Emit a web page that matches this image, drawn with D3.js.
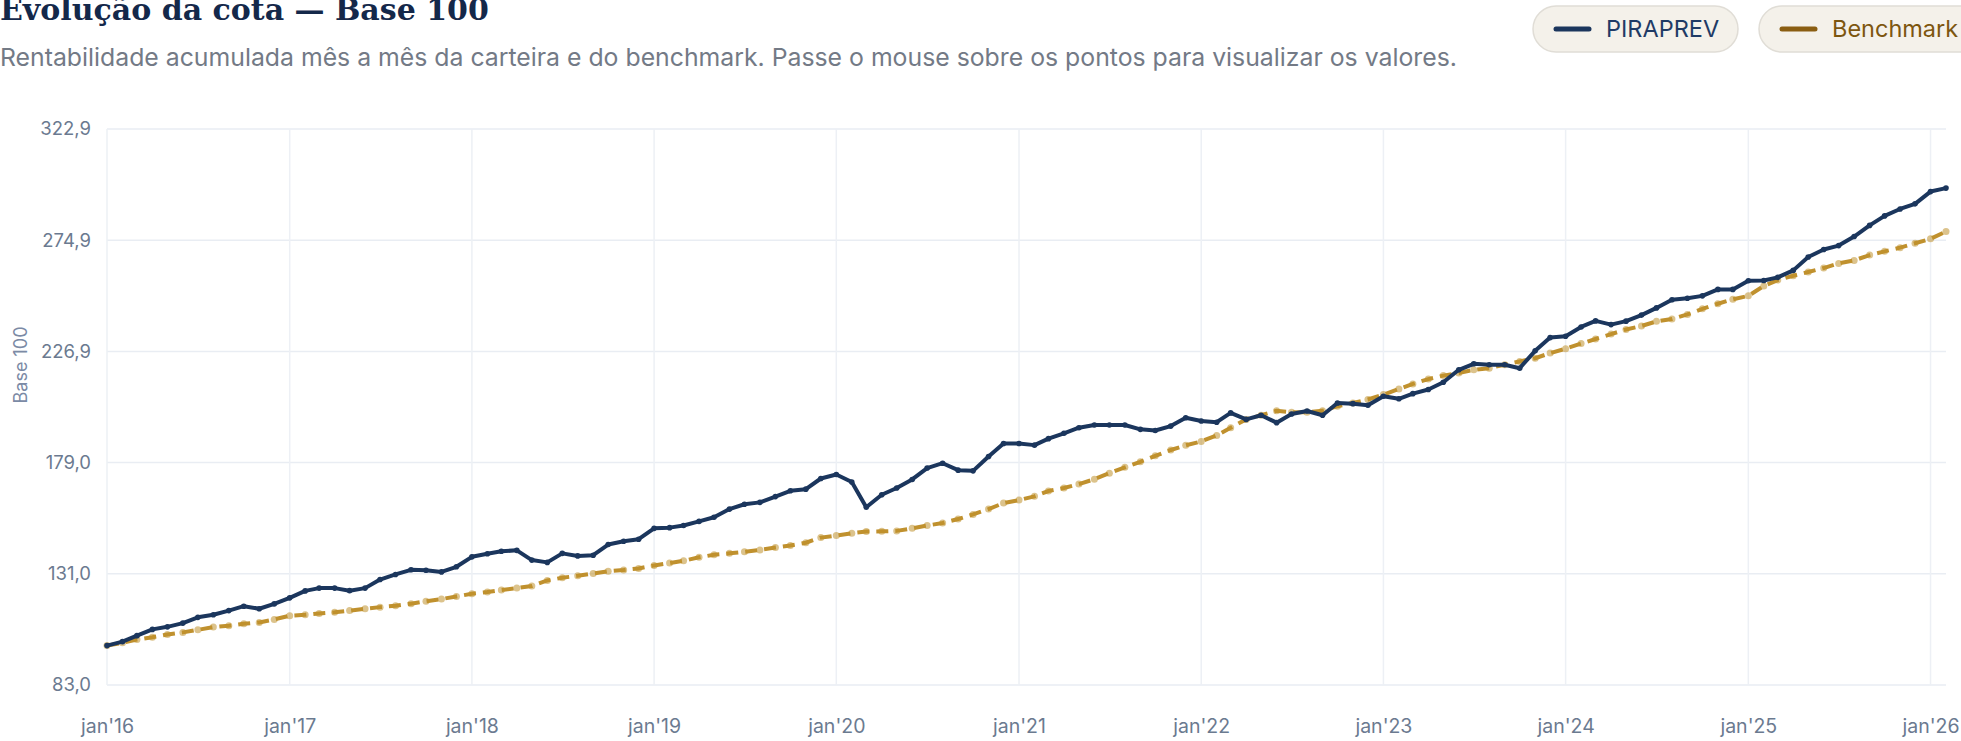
<!DOCTYPE html>
<html>
<head>
<meta charset="utf-8">
<script src="https://cdn.jsdelivr.net/npm/d3@7"></script>
<style>
    body { margin: 0; background: #fff; overflow: hidden; }
    svg { display: block; font-family: Inter, "Noto Sans", sans-serif; }
</style>
</head>
<body>
<svg id="chart" width="1961" height="741"></svg>
<script>
// monthly values jan'16 .. feb'26
let piraprev = [
    100.0, 101.7, 104.3, 107.0, 108.1, 109.7, 112.2, 113.3, 115.1, 117.0, 115.9, 118.0,
    120.6, 123.6, 124.8, 124.8, 123.7, 124.8, 128.5, 130.7, 132.7, 132.5, 131.8, 134.0,
    138.3, 139.6, 140.7, 141.1, 136.9, 135.9, 139.8, 138.7, 139.0, 143.6, 145.0, 145.9,
    150.6, 150.9, 151.8, 153.6, 155.4, 158.9, 161.0, 161.8, 164.3, 166.8, 167.5, 172.1,
    173.8, 170.6, 159.7, 165.1, 168.0, 171.7, 176.6, 178.7, 175.7, 175.4, 181.6, 187.2,
    187.2, 186.5, 189.3, 191.6, 194.0, 195.2, 195.2, 195.2, 193.3, 192.8, 194.7, 198.3,
    196.9, 196.4, 200.4, 197.6, 199.4, 196.2, 199.9, 201.2, 199.4, 204.7, 204.4, 203.7,
    207.6, 206.5, 208.7, 210.5, 213.6, 219.0, 221.6, 221.2, 221.2, 219.7, 227.2, 232.9,
    233.5, 237.5, 240.1, 238.5, 240.0, 242.6, 245.7, 249.2, 249.9, 250.9, 253.7, 253.7,
    257.4, 257.5, 258.9, 261.9, 267.7, 270.9, 272.6, 276.5, 281.3, 285.4, 288.4, 290.6,
    295.9, 297.4
];
let benchmark = [
    100.0, 101.2, 102.6, 103.6, 104.8, 105.7, 106.8, 108.0, 108.6, 109.4, 110.0, 111.3,
    112.9, 113.3, 113.9, 114.4, 115.1, 115.9, 116.6, 117.2, 118.1, 119.1, 120.1, 121.2,
    122.4, 123.1, 124.0, 124.8, 125.7, 128.1, 129.3, 130.1, 131.1, 132.1, 132.6, 133.3,
    134.6, 135.6, 136.6, 138.1, 139.2, 139.8, 140.5, 141.3, 142.3, 143.2, 144.4, 146.6,
    147.5, 148.5, 149.2, 149.3, 149.5, 150.6, 151.8, 152.9, 154.6, 156.6, 158.9, 161.5,
    162.8, 164.4, 166.7, 168.0, 169.7, 171.8, 174.4, 176.9, 179.3, 181.9, 184.4, 186.4,
    188.1, 190.7, 194.0, 197.6, 199.4, 201.3, 200.7, 200.7, 201.3, 203.3, 204.7, 206.2,
    208.3, 210.7, 212.9, 215.0, 216.5, 217.6, 219.0, 219.7, 221.2, 222.6, 224.0, 226.2,
    228.1, 230.3, 232.3, 234.4, 236.4, 237.9, 239.9, 240.9, 242.9, 245.3, 247.5, 249.4,
    250.9, 255.2, 257.7, 259.6, 261.2, 262.9, 264.9, 266.2, 268.5, 270.1, 271.7, 273.6,
    275.5, 278.7
];
let yTicks = [83.0, 131.0, 179.0, 226.9, 274.9, 322.9];
let xTickYears = [2016, 2017, 2018, 2019, 2020, 2021, 2022, 2023, 2024, 2025, 2026];
let seriesNames = ["PIRAPREV", "Benchmark"];

let navy = "#1b365d";
let gold = "#c0912e";

let svg = d3.select("#chart");
let months = piraprev.map((d, i) => new Date(2016, i, 1));

let x = d3.scaleTime().domain([months[0], months[months.length - 1]]).range([107, 1946]);
let y = d3.scaleLinear().domain([yTicks[0], yTicks[yTicks.length - 1]]).range([685, 129]);

// title + subtitle (title is cut at the top edge, as in the original)
svg.append("text").attr("x", 0).attr("y", 20)
    .attr("font-family", "'DejaVu Serif', serif").attr("font-weight", "bold")
    .attr("font-size", 30).attr("fill", "#14284a")
    .text("Evolução da cota — Base 100");
svg.append("text").attr("x", 0).attr("y", 66)
    .attr("font-size", 24.8).attr("fill", "#737a86")
    .text("Rentabilidade acumulada mês a mês da carteira e do benchmark. Passe o mouse sobre os pontos para visualizar os valores.");

// legend pills
let legend = [
    {name: seriesNames[0], x: 1533, w: 205, line: "#1b365d", text: "#1f3b66"},
    {name: seriesNames[1], x: 1759, w: 225, line: "#8a5e12", text: "#7d560f"}
];
let pill = svg.append("g").selectAll("g").data(legend).enter().append("g")
    .attr("transform", d => "translate(" + d.x + ",6)");
pill.append("rect").attr("width", d => d.w).attr("height", 46).attr("rx", 23)
    .attr("fill", "#f4f1ea").attr("stroke", "#e0ddd6").attr("stroke-width", 1.5);
pill.append("line").attr("x1", 23).attr("x2", 56).attr("y1", 23).attr("y2", 23)
    .attr("stroke", d => d.line).attr("stroke-width", 5).attr("stroke-linecap", "round");
pill.append("text").attr("x", 73).attr("y", 31).attr("font-size", 23.5)
    .attr("fill", d => d.text).text(d => d.name);

// grid
let grid = svg.append("g");
grid.selectAll(".h").data(yTicks).enter().append("line")
    .attr("x1", 107).attr("x2", 1946).attr("y1", d => y(d)).attr("y2", d => y(d))
    .attr("stroke", "#e9edf3").attr("stroke-width", 1.5);
grid.selectAll(".v").data(xTickYears).enter().append("line")
    .attr("x1", d => x(new Date(d, 0, 1))).attr("x2", d => x(new Date(d, 0, 1)))
    .attr("y1", 129).attr("y2", 685)
    .attr("stroke", "#edf0f5").attr("stroke-width", 1.5);

// axes
let yAxis = svg.append("g").attr("transform", "translate(107,0)")
    .call(d3.axisLeft(y).tickValues(yTicks).tickSize(0).tickPadding(16)
        .tickFormat(d => d.toFixed(1).replace(".", ",")));
let xAxis = svg.append("g").attr("transform", "translate(0,685)")
    .call(d3.axisBottom(x).tickValues(xTickYears.map(d => new Date(d, 0, 1))).tickSize(0).tickPadding(34)
        .tickFormat(d => "jan'" + String(d.getFullYear()).slice(2)));
yAxis.selectAll("text").attr("font-size", 18.5);
xAxis.selectAll("text").attr("font-size", 19.5);
[yAxis, xAxis].forEach(a => {
    a.select(".domain").remove();
    a.selectAll("text").attr("font-family", "Inter, sans-serif").attr("fill", "#6b7a90");
});

svg.append("text").attr("transform", "translate(27,365) rotate(-90)")
    .attr("text-anchor", "middle").attr("font-size", 18).attr("fill", "#7b8aa5")
    .text("Base 100");

// lines
let line = d3.line().x((d, i) => x(months[i])).y(d => y(d));

svg.append("path").datum(benchmark).attr("d", line).attr("fill", "none")
    .attr("stroke", gold).attr("stroke-width", 4).attr("stroke-dasharray", "12 7");
svg.append("g").selectAll("circle").data(benchmark).enter().append("circle")
    .attr("cx", (d, i) => x(months[i])).attr("cy", d => y(d)).attr("r", 3.5)
    .attr("fill", gold).attr("fill-opacity", 0.55);

svg.append("path").datum(piraprev).attr("d", line).attr("fill", "none")
    .attr("stroke", navy).attr("stroke-width", 4).attr("stroke-linejoin", "round");
svg.append("g").selectAll("circle").data(piraprev).enter().append("circle")
    .attr("cx", (d, i) => x(months[i])).attr("cy", d => y(d)).attr("r", 2.8)
    .attr("fill", navy);
</script>
</body>
</html>
